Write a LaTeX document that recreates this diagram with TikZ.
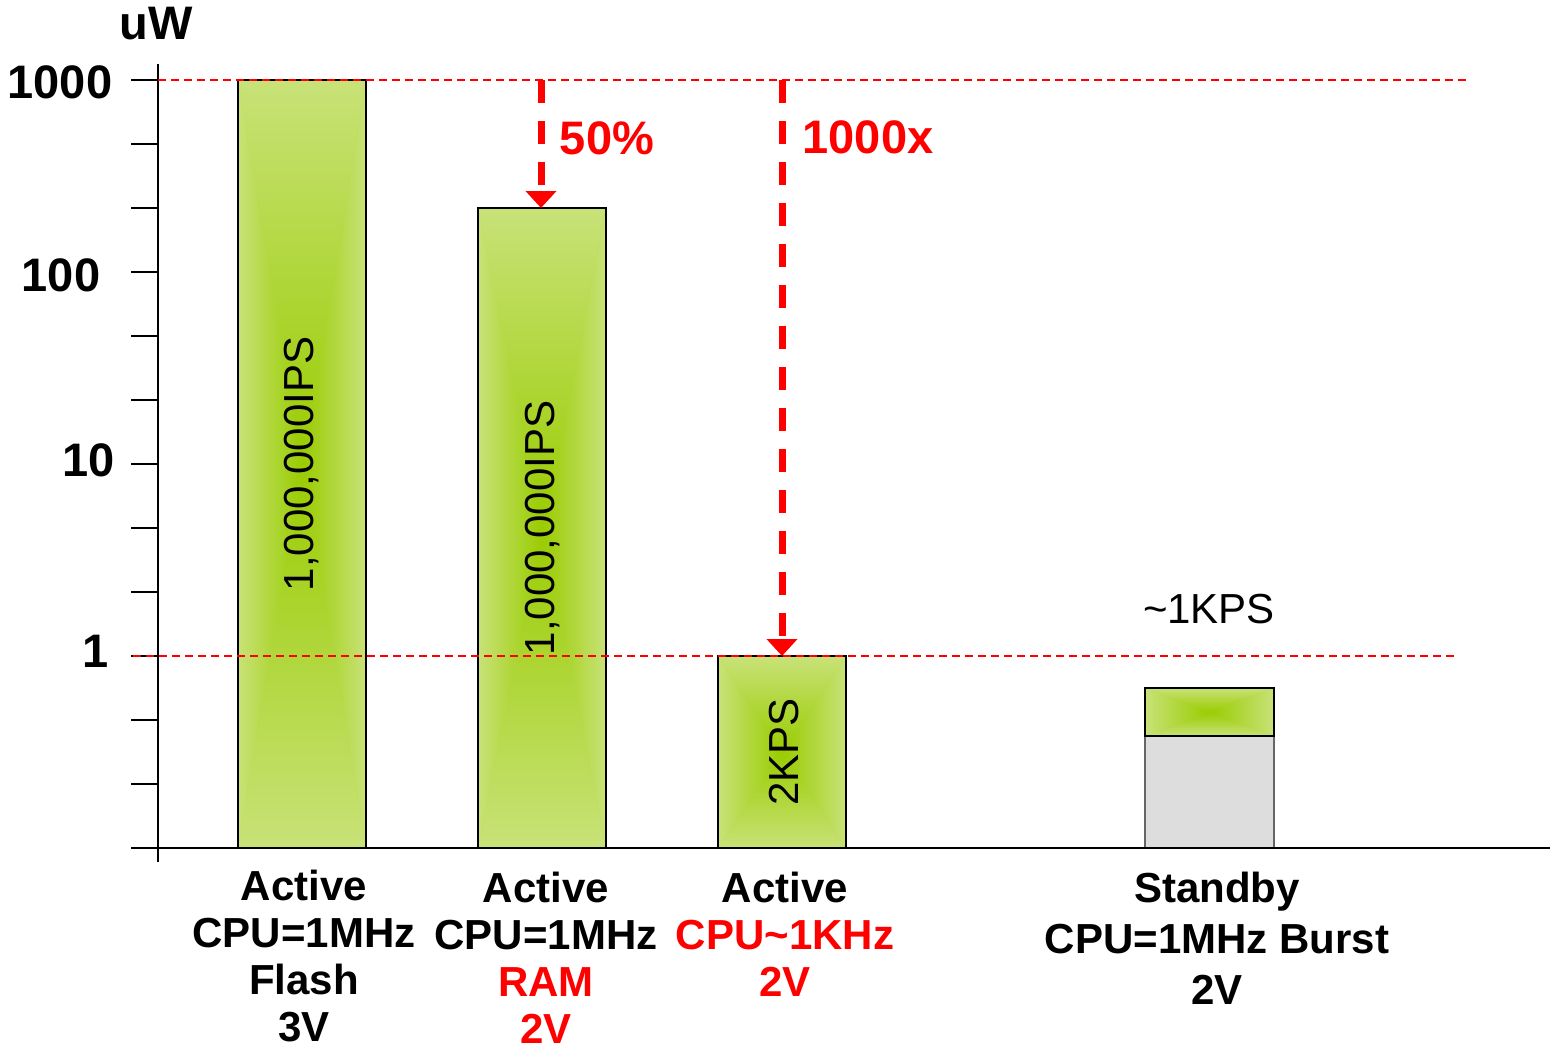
\documentclass[tikz,border=0pt]{standalone}
\usepackage{fontspec}
\setmainfont{Liberation Sans}
\usetikzlibrary{arrows.meta}
\definecolor{glight}{HTML}{C8E278}
\definecolor{gdark}{HTML}{99CC00}
\definecolor{gmid}{HTML}{B4D84A}
\definecolor{gfill}{HTML}{DDDDDD}
\definecolor{myred}{HTML}{FF0000}
\newcommand{\gradbar}[4]{%
  \pgfmathsetmacro\cxx{(#1+#3)/2}%
  \pgfmathsetmacro\cyy{(#2+#4)/2}%
  \fill[gmid] (#1,#2) rectangle (#3,#4);
  \shade[top color=glight,bottom color=gdark] (#1,#2)--(#3,#2)--(\cxx,\cyy)--cycle;
  \shade[top color=gdark,bottom color=glight] (#1,#4)--(#3,#4)--(\cxx,\cyy)--cycle;
  \shade[left color=glight,right color=gdark] (#1,#2)--(#1,#4)--(\cxx,\cyy)--cycle;
  \shade[left color=gdark,right color=glight] (#3,#2)--(#3,#4)--(\cxx,\cyy)--cycle;
}
\newcommand{\tld}{{\char"7E\relax}}
\begin{document}
\begin{tikzpicture}[x=1pt,y=-1pt,
  barline/.style={draw=black,line width=2.5pt},
  axisline/.style={draw=black,line width=2pt},
  thindash/.style={draw=myred,line width=2pt,dash pattern=on 8pt off 5pt},
  bigarrow/.style={draw=myred,line width=7pt,dash pattern=on 23pt off 18pt,
     -{Triangle[width=30pt,length=17pt,fill=myred]}},
  ylab/.style={font=\bfseries\fontsize{47}{50}\selectfont,inner sep=0pt},
  redbig/.style={font=\bfseries\fontsize{47}{50}\selectfont,text=myred,inner sep=0pt},
  bartext/.style={font=\fontsize{42}{46}\selectfont,rotate=90,inner sep=0pt},
  plaintext/.style={font=\fontsize{42}{46}\selectfont,inner sep=0pt},
  catlab/.style={font=\bfseries\fontsize{42}{47}\selectfont,align=center,inner sep=0pt,anchor=north},
  catlabw/.style={font=\bfseries\fontsize{42}{51}\selectfont,align=center,inner sep=0pt,anchor=north}
]
\useasboundingbox (0,0) rectangle (1550,1052);
\fill[white] (0,0) rectangle (1550,1052);

% bars
\gradbar{238}{80}{366}{848}
\draw[barline] (238,80) rectangle (366,848);
\gradbar{478}{208}{606}{848}
\draw[barline] (478,208) rectangle (606,848);
\gradbar{718}{656}{846}{848}
\draw[barline] (718,656) rectangle (846,848);
% standby bar
\fill[gfill] (1145,736) rectangle (1274,848);
\draw[draw=gray!80!black,line width=2pt] (1145,848) -- (1145,736) -- (1274,736) -- (1274,848);
\gradbar{1145}{688}{1274}{736}
\draw[barline] (1145,688) rectangle (1274,736);

% axes
\draw[axisline] (158,64) -- (158,862);
\draw[axisline] (131,848) -- (1550,848);
\foreach \yy in {80,144,208,272,336,400,464,528,592,656,720,784}
  \draw[axisline] (131,\yy) -- (158,\yy);

% reference dashed lines
\draw[thindash] (158,80) -- (1468,80);
\draw[thindash] (133,656) -- (1455,656);

% arrows
\coordinate (a1s) at (541,80);
\coordinate (b2top) at (541,208);
\coordinate (a2s) at (782,80);
\coordinate (b3top) at (782,656);
\draw[bigarrow] (a1s) -- (b2top);
\draw[bigarrow] (a2s) -- (b3top);

% axis labels
\node[ylab] (tuW) at (156,24) {uW};
\node[ylab] (t1000) at (60,82) {1000};
\node[ylab] (t100) at (61,275) {100};
\node[ylab] (t10) at (89,460) {10};
\node[ylab] (t1) at (96,651) {1};

% red annotations
\node[redbig] (p50) at (607,138) {50\%};
\node[redbig] (p1000x) at (868,137) {1000x};

% bar texts
\node[bartext] (ips1) at (302,464) {1,000,000IPS};
\node[bartext] (ips2) at (543,528) {1,000,000IPS};
\node[bartext] (kps2) at (784,752) {2KPS};
\node[plaintext] (kps1) at (1209,609) {\tld1KPS};

% category labels
\node[catlab] (cat1) at (304,870) {Active\\CPU=1MHz\\Flash\\3V};
\node[catlab] (cat2) at (546,872) {Active\\CPU=1MHz\\\textcolor{myred}{RAM}\\\textcolor{myred}{2V}};
\node[catlab] (cat3) at (785,872) {Active\\\textcolor{myred}{CPU\tld1KHz}\\\textcolor{myred}{2V}};
\node[catlabw] (cat4) at (1217,872) {Standby\\CPU=1MHz Burst\\2V};
\end{tikzpicture}
\end{document}
